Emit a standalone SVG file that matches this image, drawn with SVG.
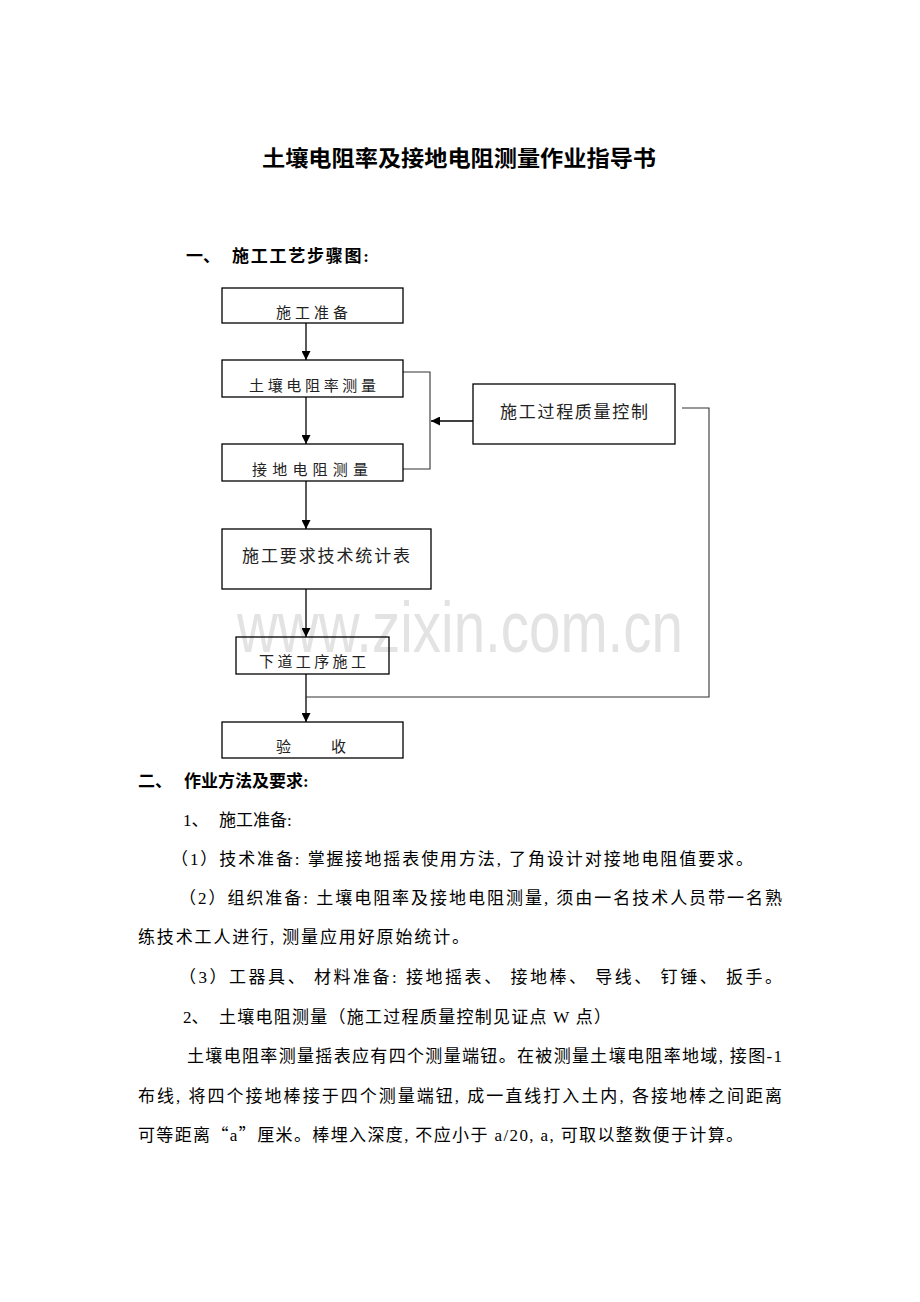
<svg xmlns="http://www.w3.org/2000/svg" width="920" height="1302" viewBox="0 0 920 1302">
<defs>
<style>
.bg{fill:#ffffff}
.box{fill:none;stroke:#000;stroke-width:1.3}
.edge{fill:none;stroke:#000;stroke-width:1.3}
.ctl{fill:none;stroke:#333;stroke-width:1.1}
.bt{font-family:"Liberation Serif","Noto Sans CJK SC",serif;font-size:15px;fill:#222}
.bt2{font-family:"Liberation Serif","Noto Sans CJK SC",serif;font-size:17px;fill:#222}
.title{font-family:"Liberation Sans","Noto Sans CJK SC",sans-serif;font-size:22px;font-weight:bold;fill:#000}
.h{font-family:"Liberation Serif","Noto Sans CJK SC",serif;font-size:17px;font-weight:bold;fill:#000}
.p{font-family:"Liberation Serif","Noto Sans CJK SC",serif;font-size:17px;fill:#000}
.cjk{font-family:"Noto Sans CJK SC",sans-serif}
.wm{font-family:"Liberation Sans",Arial,sans-serif;font-size:72px;fill:#e3e3e3}
</style>
<marker id="arr" viewBox="0 0 10 10" refX="10" refY="5" markerWidth="9" markerHeight="9" markerUnits="userSpaceOnUse" orient="auto">
<path d="M0,0 L10,5 L0,10 z" fill="#000"/>
</marker>
</defs>
<rect class="bg" x="0" y="0" width="920" height="1302"/>
<text class="wm" x="237" y="652" textLength="446" lengthAdjust="spacingAndGlyphs">www.zixin.com.cn</text>

<text class="title" x="262" y="166" textLength="394" lengthAdjust="spacingAndGlyphs">土壤电阻率及接地电阻测量作业指导书</text>
<text class="h" y="262"><tspan x="186">一、</tspan><tspan x="232" textLength="137" lengthAdjust="spacing">施工工艺步骤图:</tspan></text>

<g id="connectors">
<line class="edge" x1="306" y1="323" x2="306" y2="360" marker-end="url(#arr)"/>
<line class="edge" x1="306" y1="397" x2="306" y2="444" marker-end="url(#arr)"/>
<line class="edge" x1="306" y1="481" x2="306" y2="529" marker-end="url(#arr)"/>
<line class="edge" x1="306" y1="589" x2="306" y2="637" marker-end="url(#arr)"/>
<line class="edge" x1="306" y1="674" x2="306" y2="722" marker-end="url(#arr)"/>
<polyline class="ctl" points="403,372 430,372 430,469 403,469"/>
<line class="edge" x1="473" y1="421" x2="431" y2="421" marker-end="url(#arr)"/>
<polyline class="ctl" points="682,408 709,408 709,697 306,697"/>
</g>

<g id="n1">
<rect class="box" x="222" y="288" width="181" height="35"/>
<text class="bt" x="276" y="318" textLength="72" lengthAdjust="spacing">施工准备</text>
</g>
<g id="n2">
<rect class="box" x="222" y="360" width="181" height="37"/>
<text class="bt" x="249" y="391" textLength="127" lengthAdjust="spacing">土壤电阻率测量</text>
</g>
<g id="n3">
<rect class="box" x="222" y="444" width="181" height="37"/>
<text class="bt" x="252" y="475" textLength="116" lengthAdjust="spacing">接地电阻测量</text>
</g>
<g id="n4">
<rect class="box" x="473" y="384" width="202" height="60"/>
<text class="bt2" x="500" y="418" textLength="148" lengthAdjust="spacing">施工过程质量控制</text>
</g>
<g id="n5">
<rect class="box" x="222" y="529" width="209" height="60"/>
<text class="bt2" x="242" y="562" textLength="168" lengthAdjust="spacing">施工要求技术统计表</text>
</g>
<g id="n6">
<rect class="box" x="236" y="637" width="153" height="37"/>
<text class="bt" x="259" y="667" textLength="107" lengthAdjust="spacing">下道工序施工</text>
</g>
<g id="n7">
<rect class="box" x="222" y="722" width="181" height="36"/>
<text class="bt" y="752"><tspan x="276">验</tspan><tspan x="331">收</tspan></text>
</g>

<text class="h" y="787"><tspan x="138">二、</tspan><tspan x="184">作业方法及要求:</tspan></text>
<text class="p" y="826"><tspan x="183">1、</tspan><tspan x="219">施工准备:</tspan></text>
<text class="p" x="171" y="865" textLength="582" lengthAdjust="spacing">（1）技术准备: 掌握接地摇表使用方法, 了角设计对接地电阻值要求。</text>
<text class="p" x="179" y="904" textLength="603" lengthAdjust="spacing">（2）组织准备: 土壤电阻率及接地电阻测量, 须由一名技术人员带一名熟</text>
<text class="p" x="138" y="943" textLength="331" lengthAdjust="spacing">练技术工人进行, 测量应用好原始统计。</text>
<text class="p" x="179" y="983" textLength="603" lengthAdjust="spacing">（3）工器具、 材料准备: 接地摇表、 接地棒、 导线、 钉锤、 扳手。</text>
<text class="p" x="183" y="1023">2、</text>
<text class="p" x="219" y="1023" textLength="392" lengthAdjust="spacing">土壤电阻测量（施工过程质量控制见证点 W 点）</text>
<text class="p" x="187" y="1062" textLength="595" lengthAdjust="spacing">土壤电阻率测量摇表应有四个测量端钮。在被测量土壤电阻率地域, 接图-1</text>
<text class="p" x="138" y="1102" textLength="644" lengthAdjust="spacing">布线, 将四个接地棒接于四个测量端钮, 成一直线打入土内, 各接地棒之间距离</text>
<text class="p" x="138" y="1141" textLength="605" lengthAdjust="spacing">可等距离<tspan class="cjk">“</tspan>a<tspan class="cjk">”</tspan>厘米。棒埋入深度, 不应小于 a/20, a, 可取以整数便于计算。</text>
</svg>
